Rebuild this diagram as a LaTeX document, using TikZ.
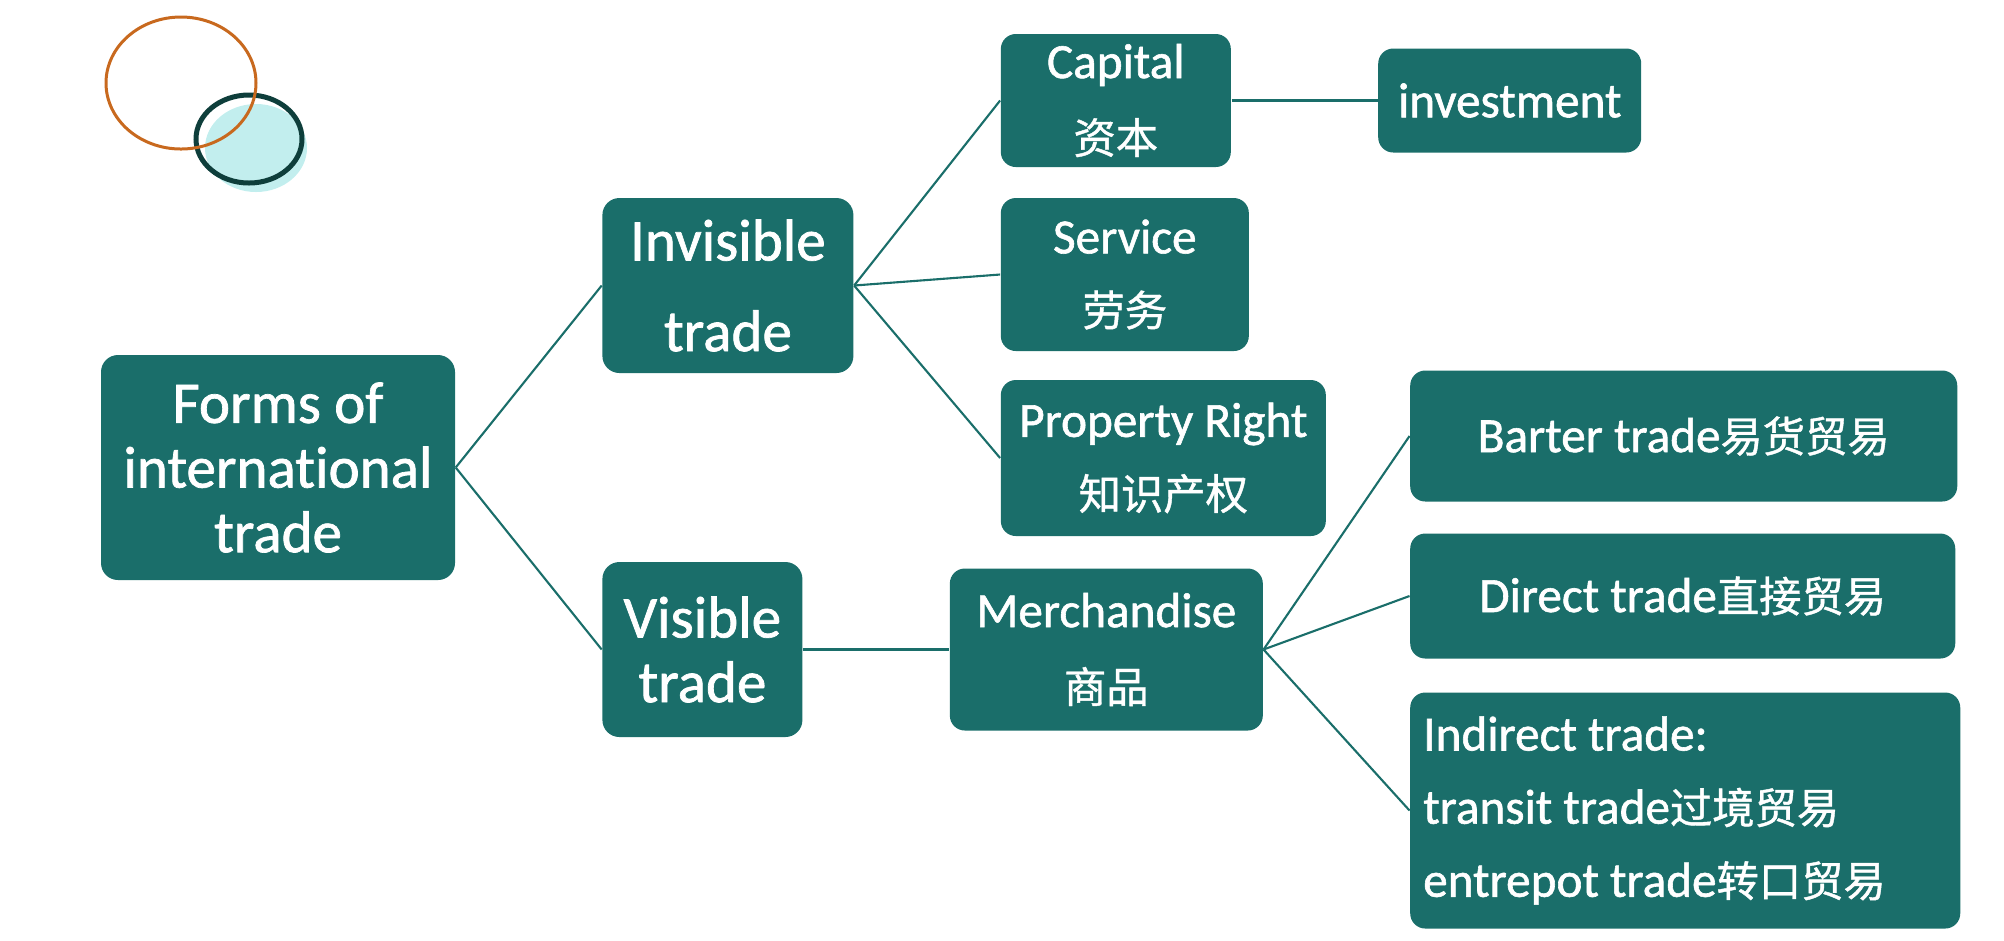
\documentclass[tikz,border=0pt]{standalone}
\usepackage{fontspec}
\setmainfont{Carlito}[FakeBold=1.2, Ligatures=NoCommon]
\newfontfamily\cjk[Scale=0.86,FakeBold=1.0]{Noto Sans CJK SC}
\usepackage{tikz}
\usetikzlibrary{positioning}
\definecolor{tradeteal}{HTML}{1A6E6A}
\definecolor{ringorange}{HTML}{C8691E}
\definecolor{ringdark}{HTML}{0E3E3B}
\definecolor{ringcyan}{HTML}{C2EEEE}
\tikzset{
  topic/.style = {rectangle, rounded corners=0.17cm, fill=tradeteal, text=white,
                  align=center, inner sep=2pt,
                  font=\fontsize{16.8}{18.4}\selectfont},
  leaf/.style  = {rectangle, rounded corners=0.15cm, fill=tradeteal, text=white,
                  align=center, inner sep=2pt,
                  font=\fontsize{14}{21.5}\selectfont},
  link/.style  = {draw=tradeteal, line width=0.6pt},
}
\begin{document}
\begin{tikzpicture}[node distance=1.46cm]
  \useasboundingbox (0,0) rectangle (20.04,-9.40);

  % decoration top left
  \fill[ringcyan] (2.56,-1.48) ellipse (0.51 and 0.44);
  \draw[ringdark, line width=0.05cm] (2.49,-1.39) ellipse (0.53 and 0.44);
  \draw[ringorange, line width=0.03cm] (1.81,-0.83) ellipse (0.75 and 0.66);

  \node[topic, minimum width=3.54cm, minimum height=2.25cm] (root) at (2.78,-4.675)
       {Forms of\\international\\trade};

  \node[topic, right=of root, yshift=1.82cm, minimum width=2.51cm, minimum height=1.75cm,
        font=\fontsize{16.8}{25.8}\selectfont] (invisible) {Invisible\\trade};
  \node[topic, right=of root, yshift=-1.82cm, minimum width=2.0cm, minimum height=1.75cm]
       (visible) {Visible\\trade};

  \draw[link] (root.east) -- (invisible.west);
  \draw[link] (root.east) -- (visible.west);

  \node[leaf, right=of invisible, yshift=1.85cm, minimum width=2.30cm, minimum height=1.33cm]
       (capital) {Capital\\{\cjk 资本}};
  \node[leaf, right=of invisible, yshift=0.11cm, minimum width=2.48cm, minimum height=1.53cm,
        font=\fontsize{14}{20.7}\selectfont] (service) {Service\\{\cjk 劳务}};
  \node[leaf, right=of invisible, yshift=-1.725cm, minimum width=3.25cm, minimum height=1.56cm,
        font=\fontsize{14}{20.7}\selectfont] (property) {Property Right\\{\cjk 知识产权}};

  \draw[link] (invisible.east) -- (capital.west);
  \draw[link] (invisible.east) -- (service.west);
  \draw[link] (invisible.east) -- (property.west);

  \node[leaf, right=of capital, minimum width=2.63cm, minimum height=1.04cm]
       (investment) {investment};
  \draw[link] (capital) -- (investment);

  \node[leaf, right=of visible, minimum width=3.13cm, minimum height=1.62cm]
       (merch) {Merchandise\\{\cjk 商品}};
  \draw[link] (visible) -- (merch);

  \node[leaf, right=of merch, yshift=2.135cm, minimum width=5.47cm, minimum height=1.31cm]
       (barter) {Barter trade{\cjk 易货贸易}};
  \node[leaf, right=of merch, yshift=0.535cm, minimum width=5.45cm, minimum height=1.25cm]
       (direct) {Direct trade{\cjk 直接贸易}};
  \node[leaf, right=of merch, yshift=-1.61cm, align=flush left, inner xsep=0.13cm,
        text width=5.24cm, minimum height=2.36cm, font=\fontsize{14}{20.8}\selectfont]
       (indirect) {Indirect trade:\\transit trade{\cjk 过境贸易}\\entrepot trade{\cjk 转口贸易}};

  \draw[link] (merch.east) -- (barter.west);
  \draw[link] (merch.east) -- (direct.west);
  \draw[link] (merch.east) -- (indirect.west);

\end{tikzpicture}
\end{document}
